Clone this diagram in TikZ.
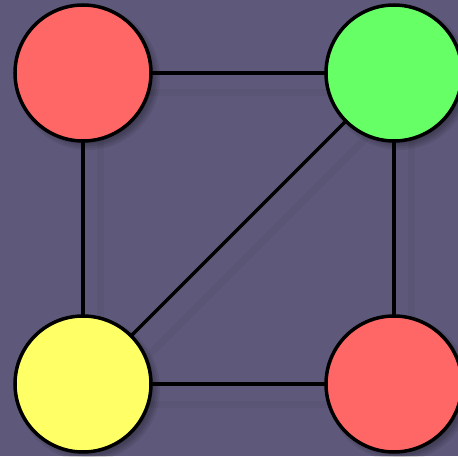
\documentclass[tikz,border=0pt]{standalone}
\definecolor{bg}{HTML}{5E597A}
\definecolor{nred}{HTML}{FF6666}
\definecolor{ngreen}{HTML}{66FF66}
\definecolor{nyellow}{HTML}{FFFF66}
\tikzset{
  vertex/.style={circle, draw=black, line width=3.5pt, minimum size=136pt, inner sep=0pt},
  softshadow/.style={fill=black, opacity=0.07},
  edge/.style={draw=black, line width=3.5pt},
  edgeshadow/.style={draw=black, line width=7pt, opacity=0.04}
}
\begin{document}
\begin{tikzpicture}[x=1pt,y=1pt]
  \fill[bg] (0,0) rectangle (458,456);
  \useasboundingbox (0,0) rectangle (458,456);
  \coordinate (sa) at (100,363);
  \coordinate (sb) at (411,363);
  \coordinate (sc) at (100,52);
  \coordinate (sd) at (411,52);
  \draw[edgeshadow] (sa) -- (sb) -- (sd) -- (sc) -- cycle;
  \draw[edgeshadow] (sc) -- (sb);
  \coordinate (ca) at (83,383);
  \coordinate (cb) at (394,383);
  \coordinate (cc) at (83,72);
  \coordinate (cd) at (394,72);
  \draw[edge] (ca) -- (cb) -- (cd) -- (cc) -- cycle;
  \draw[edge] (cc) -- (cb);
  \foreach \p in {ca,cb,cc,cd}{
    \foreach \r in {64,66,68,70,72}{
      \fill[softshadow] ([shift={(5,-5)}]\p) circle (\r);
    }
  }
  \node[vertex, fill=nred] (a) at (ca) {};
  \node[vertex, fill=ngreen] (b) at (cb) {};
  \node[vertex, fill=nyellow] (c) at (cc) {};
  \node[vertex, fill=nred] (d) at (cd) {};
\end{tikzpicture}
\end{document}
